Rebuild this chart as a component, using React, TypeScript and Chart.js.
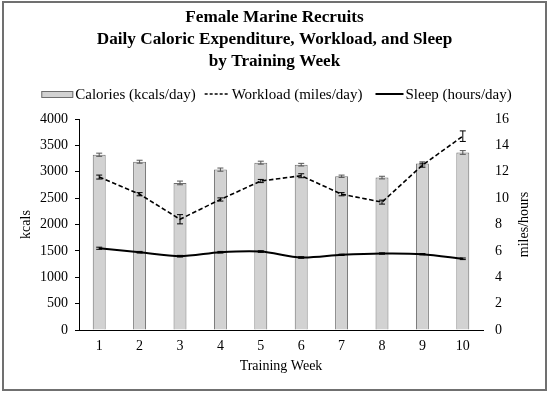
import React, { useEffect, useRef } from "react";
import { Chart, registerables } from "chart.js";

Chart.register(...registerables);

const weeks = ["1", "2", "3", "4", "5", "6", "7", "8", "9", "10"];
const calories = [3323, 3191, 2789, 3041, 3173, 3135, 2915, 2890, 3159, 3366];
const caloriesErr = [30, 28, 35, 30, 28, 25, 22, 25, 30, 35];
const workload = [11.6, 10.3, 8.4, 9.9, 11.3, 11.7, 10.3, 9.7, 12.5, 14.7];
const workloadErr = [0.15, 0.12, 0.35, 0.12, 0.12, 0.15, 0.12, 0.15, 0.15, 0.4];
const sleep = [6.2, 5.9, 5.6, 5.9, 5.95, 5.5, 5.7, 5.8, 5.75, 5.4];
const sleepErr = [0.08, 0.06, 0.06, 0.06, 0.06, 0.06, 0.05, 0.05, 0.05, 0.06];
const legendLabels = ["Calories (kcals/day)", "Workload (miles/day)", "Sleep (hours/day)"];

const FONT = "'Liberation Serif', 'Times New Roman', serif";
const BAR_FILL = "#d2d2d2";
const BAR_EDGE = "#6e6e6e";

const errorBarPlugin = {
  id: "errorBars",
  afterDatasetsDraw(chart: any) {
    const ctx = chart.ctx;
    chart.data.datasets.forEach((ds: any, di: number) => {
      const errs: number[] | undefined = ds.errors;
      if (!errs) return;
      const meta = chart.getDatasetMeta(di);
      const yScale = chart.scales[meta.yAxisID];
      ctx.save();
      ctx.strokeStyle = ds.errorColor || "#000";
      ctx.lineWidth = 1;
      meta.data.forEach((el: any, i: number) => {
        const v = ds.data[i];
        const e = errs[i];
        const x = el.x;
        const y1 = yScale.getPixelForValue(v + e);
        const y2 = yScale.getPixelForValue(v - e);
        ctx.beginPath();
        ctx.moveTo(x, y1);
        ctx.lineTo(x, y2);
        ctx.moveTo(x - 3, y1);
        ctx.lineTo(x + 3, y1);
        ctx.moveTo(x - 3, y2);
        ctx.lineTo(x + 3, y2);
        ctx.stroke();
      });
      ctx.restore();
    });
  },
};

const extrasPlugin = {
  id: "extras",
  afterDraw(chart: any) {
    const { ctx, chartArea } = chart;
    ctx.save();
    ctx.translate(520, (chartArea.top + chartArea.bottom) / 2);
    ctx.rotate(-Math.PI / 2);
    ctx.font = `14px ${FONT}`;
    ctx.fillStyle = "#000";
    ctx.textAlign = "center";
    ctx.textBaseline = "middle";
    ctx.fillText("miles/hours", 0, 0);
    ctx.restore();

    ctx.save();
    ctx.font = `15px ${FONT}`;
    ctx.textBaseline = "middle";
    ctx.textAlign = "left";
    const symW = [32, 25, 28];
    const gapSym = 2;
    const gapItem = [9, 13];
    const widths = legendLabels.map((t) => ctx.measureText(t).width);
    let total = 0;
    for (let i = 0; i < 3; i++) {
      total += symW[i] + gapSym + widths[i];
      if (i < 2) total += gapItem[i];
    }
    let x = 272.5 - total / 2;
    const cy = 91;
    for (let i = 0; i < 3; i++) {
      if (i === 0) {
        ctx.fillStyle = BAR_FILL;
        ctx.fillRect(x, cy - 3, symW[0], 6);
        ctx.strokeStyle = BAR_EDGE;
        ctx.lineWidth = 1;
        ctx.strokeRect(x + 0.5, cy - 2.5, symW[0] - 1, 6);
      } else {
        ctx.strokeStyle = "#000";
        ctx.lineWidth = i === 1 ? 1.5 : 2;
        ctx.setLineDash(i === 1 ? [3, 2] : []);
        ctx.beginPath();
        ctx.moveTo(x, cy);
        ctx.lineTo(x + symW[i], cy);
        ctx.stroke();
        ctx.setLineDash([]);
      }
      x += symW[i] + gapSym;
      ctx.fillStyle = "#000";
      ctx.fillText(legendLabels[i], x, cy + 1);
      x += widths[i];
      if (i < 2) x += gapItem[i];
    }
    ctx.restore();
  },
};

export default function App() {
  const ref = useRef<HTMLCanvasElement>(null);
  useEffect(() => {
    const tickFont = { family: FONT, size: 14 };
    const chart = new Chart(ref.current!, {
      type: "bar",
      data: {
        labels: weeks,
        datasets: [
          {
            type: "bar",
            label: legendLabels[0],
            data: calories,
            errors: caloriesErr,
            errorColor: "#555",
            backgroundColor: BAR_FILL,
            borderColor: BAR_EDGE,
            borderWidth: 1,
            barPercentage: 0.32,
            categoryPercentage: 1,
            yAxisID: "y",
            order: 3,
          } as any,
          {
            type: "line",
            label: legendLabels[1],
            data: workload,
            errors: workloadErr,
            borderColor: "#000",
            borderWidth: 1.6,
            borderDash: [4.5, 2.5],
            pointRadius: 0,
            tension: 0,
            yAxisID: "y1",
            order: 1,
          } as any,
          {
            type: "line",
            label: legendLabels[2],
            data: sleep,
            errors: sleepErr,
            borderColor: "#000",
            borderWidth: 2,
            pointRadius: 0,
            tension: 0.3,
            yAxisID: "y1",
            order: 0,
          } as any,
        ],
      },
      options: {
        responsive: false,
        animation: false,
        layout: { padding: 0 },
        plugins: {
          tooltip: { enabled: false },
          legend: { display: false },
          title: {
            display: true,
            text: [
              "Female Marine Recruits",
              "Daily Caloric Expenditure, Workload, and Sleep",
              "by Training Week",
            ],
            color: "#000",
            font: { family: FONT, size: 17.2, weight: "bold", lineHeight: 1.28 },
            padding: { top: 4, bottom: 46 },
          },
        },
        scales: {
          x: {
            grid: { display: false, drawTicks: false },
            border: { display: true, color: "#000", width: 1 },
            ticks: { color: "#000", font: tickFont, padding: 8 },
            title: {
              display: true,
              text: "Training Week",
              color: "#000",
              font: tickFont,
              padding: { top: 0, bottom: 14 },
            },
            afterFit: (s: any) => {
              s.height = 59;
            },
          },
          y: {
            position: "left",
            min: 0,
            max: 4000,
            ticks: {
              stepSize: 500,
              color: "#000",
              font: tickFont,
              padding: 7,
              callback: (v: any) => String(v),
            },
            grid: { drawOnChartArea: false, drawTicks: true, tickLength: 4, color: "#000" },
            border: { display: true, color: "#000", width: 1 },
            title: {
              display: true,
              text: "kcals",
              color: "#000",
              font: tickFont,
              padding: { top: 14, bottom: 0 },
            },
            afterFit: (s: any) => {
              s.width = 75;
            },
          },
          y1: {
            position: "right",
            min: 0,
            max: 16,
            ticks: {
              stepSize: 2,
              color: "#000",
              font: tickFont,
              padding: 12,
              callback: (v: any) => String(v),
            },
            grid: { display: false, drawTicks: false },
            border: { display: false },
            afterFit: (s: any) => {
              s.width = 62;
            },
          },
        },
      } as any,
      plugins: [errorBarPlugin, extrasPlugin],
    });
    return () => chart.destroy();
  }, []);

  return (
    <div
      style={{
        position: "absolute",
        left: 2,
        top: 1,
        width: 545,
        height: 390,
        boxSizing: "border-box",
        border: "2px solid #707070",
        background: "#fff",
      }}
    >
      <canvas ref={ref} width={541} height={386} style={{ display: "block" }} />
    </div>
  );
}
